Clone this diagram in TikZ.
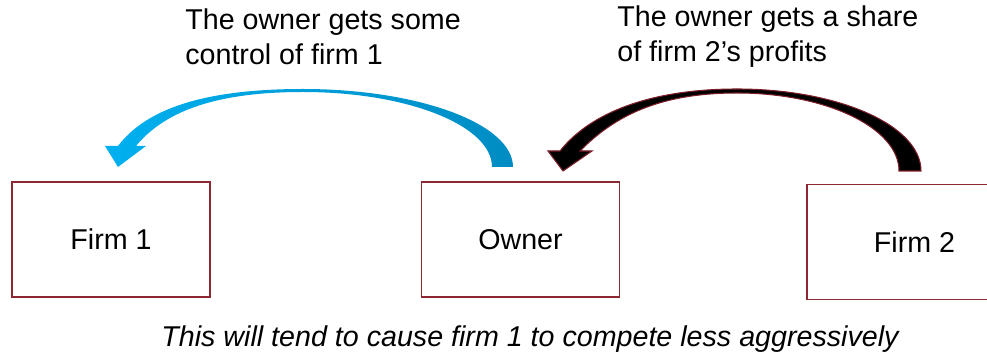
\documentclass[tikz,border=0pt]{standalone}
\usepackage{fontspec}
\setmainfont{Liberation Sans}
\usetikzlibrary{positioning}

\definecolor{boxred}{RGB}{140,40,50}
\definecolor{arrowblue}{RGB}{0,176,240}
\definecolor{arrowdeep}{RGB}{0,140,195}
\definecolor{arrowedge}{RGB}{125,30,42}

\tikzset{
    firmbox/.style={draw=boxred, line width=1.1pt, minimum width=3.96cm, minimum height=2.3cm},
    note/.style={align=left, inner sep=0pt, anchor=west},
}

\begin{document}
\begin{tikzpicture}[font=\fontsize{16.3pt}{19.9pt}\selectfont]
		\useasboundingbox (0,0) rectangle (19.74,7.16);

		% the three parties
		\node[firmbox] (firm1) at (2.22,2.37) {Firm 1};
		\node[firmbox] (owner) at (10.41,2.37) {Owner};
		\node[firmbox, minimum width=4.3cm] (firm2) at (18.29,2.32) {Firm 2};

		% control: owner -> firm 1
		\shade[left color=arrowblue, middle color=arrowblue, right color=arrowdeep]
			(2.36,4.24) .. controls (2.9,4.95) and (4.0,5.38) .. (6.06,5.38)
			.. controls (8.38,5.38) and (10.26,4.68) .. (10.26,3.82)
			-- (9.84,3.82)
			.. controls (9.84,4.65) and (8.15,5.32) .. (6.06,5.32)
			.. controls (4.2,5.32) and (3.25,4.88) .. (2.72,4.24)
			-- (2.92,4.24) -- (2.36,3.82) -- (2.10,4.24) -- cycle;

		% profits: firm 2 -> owner
		\filldraw[fill=black, draw=arrowedge, line width=0.6pt]
			(11.2,4.14) .. controls (11.8,4.9) and (13.0,5.38) .. (14.74,5.38)
			.. controls (16.77,5.38) and (18.42,4.65) .. (18.42,3.74)
			-- (17.98,3.74)
			.. controls (17.98,4.60) and (16.53,5.30) .. (14.74,5.30)
			.. controls (13.2,5.30) and (12.3,4.85) .. (11.6,4.14)
			-- (11.84,4.14) -- (11.26,3.74) -- (10.96,4.14) -- cycle;

		\node[note] (ctrl) at (3.7,6.42) {The owner gets some\\control of firm 1};
		\node[note] (share) at (12.34,6.42) {The owner gets a share\\of firm 2’s profits};

		\node (effect) at (10.6,0.38) {\itshape This will tend to cause firm 1 to compete less aggressively};
\end{tikzpicture}
\end{document}
